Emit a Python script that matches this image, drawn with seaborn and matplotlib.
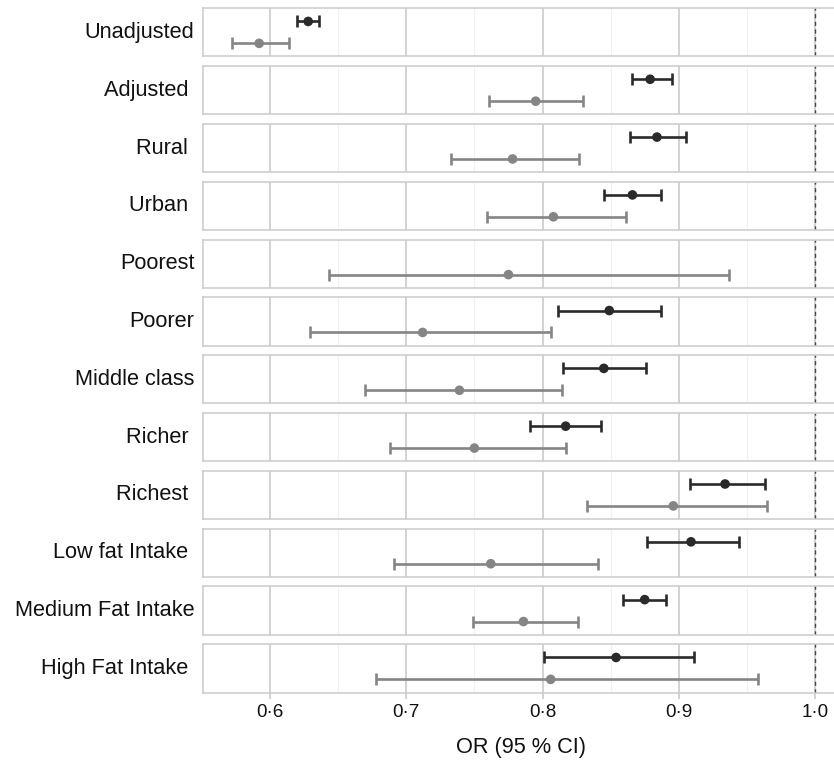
import numpy as np
import pandas as pd
import matplotlib.pyplot as plt
import seaborn as sns

# strata (trailing spaces kept as in the original labels)
groups = ['Unadjusted', 'Adjusted ', 'Rural ', 'Urban ', 'Poorest', 'Poorer',
          'Middle class', 'Richer ', 'Richest ', 'Low fat Intake ',
          'Medium Fat Intake', 'High Fat Intake ']

# dark series (upper row in each panel)
dark_or = [0.628, 0.879, 0.884, 0.866, np.nan, 0.849, 0.845, 0.817, 0.934, 0.909, 0.875, 0.854]
dark_lo = [0.620, 0.866, 0.864, 0.845, np.nan, 0.811, 0.815, 0.791, 0.908, 0.877, 0.859, 0.801]
dark_hi = [0.636, 0.895, 0.905, 0.887, np.nan, 0.887, 0.876, 0.843, 0.963, 0.944, 0.891, 0.911]

# grey series (lower row in each panel)
grey_or = [0.592, 0.795, 0.778, 0.808, 0.775, 0.712, 0.739, 0.750, 0.896, 0.762, 0.786, 0.806]
grey_lo = [0.572, 0.761, 0.733, 0.759, 0.643, 0.629, 0.670, 0.688, 0.833, 0.691, 0.749, 0.678]
grey_hi = [0.614, 0.830, 0.827, 0.861, 0.937, 0.806, 0.814, 0.817, 0.965, 0.841, 0.826, 0.958]

x_ticks = [0.6, 0.7, 0.8, 0.9, 1.0]
x_tick_labels = ['0·6', '0·7', '0·8', '0·9', '1·0']
x_minor = [0.65, 0.75, 0.85, 0.95]

rows = []
for i, g in enumerate(groups):
    rows.append(dict(group=g, series='dark', pos=2, OR=dark_or[i], lo=dark_lo[i], hi=dark_hi[i]))
    rows.append(dict(group=g, series='grey', pos=1, OR=grey_or[i], lo=grey_lo[i], hi=grey_hi[i]))
df = pd.DataFrame(rows).dropna()

colors = {'dark': '#2a2a2a', 'grey': '#858585'}

sns.set_style('white')
plt.rcParams['font.family'] = ['Liberation Sans', 'DejaVu Sans']

W, H = 834, 763
fig = plt.figure(figsize=(W / 100, H / 100), dpi=100)
gs = fig.add_gridspec(len(groups), 1, left=203.3 / W, right=838 / W,
                      top=1 - 8.3 / H, bottom=1 - 692.5 / H, hspace=0.2)

for i, g in enumerate(groups):
    ax = fig.add_subplot(gs[i])
    sub = df[df['group'] == g]
    for s, d in sub.groupby('series'):
        ax.errorbar(d['OR'], d['pos'], xerr=[d['OR'] - d['lo'], d['hi'] - d['OR']],
                    fmt='none', ecolor=colors[s], elinewidth=1.9, capsize=4.5,
                    capthick=1.9, zorder=3)
    sns.scatterplot(data=sub, x='OR', y='pos', hue='series', palette=colors,
                    s=48, edgecolor='none', legend=False, ax=ax, zorder=4)
    ax.axvline(1.0, color='#444444', lw=1.0, ls=(0, (3, 2.5)), zorder=2)
    ax.set_xlim(0.551, 1.0169)
    ax.set_ylim(0.4, 2.6)
    ax.set_xticks(x_ticks)
    ax.set_xticks(x_minor, minor=True)
    ax.grid(True, axis='x', which='major', color='#c6c6c6', lw=1.1)
    ax.grid(True, axis='x', which='minor', color='#f1f1f1', lw=0.8)
    ax.set_yticks([])
    ax.set_xlabel('')
    ax.set_ylabel('')
    for sp in ax.spines.values():
        sp.set_color('#cacaca')
        sp.set_linewidth(1.1)
    ax.text(-0.0142, 0.5, g, transform=ax.transAxes, ha='right', va='center',
            fontsize=15.7, color='#111111')
    if i < len(groups) - 1:
        ax.tick_params(axis='x', which='both', bottom=False, labelbottom=False)
    else:
        ax.set_xticklabels(x_tick_labels)
        ax.tick_params(axis='x', which='major', bottom=True, length=4, width=1.1,
                       color='#c6c6c6', labelsize=13.6, labelcolor='#111111', pad=4)
        ax.tick_params(axis='x', which='minor', bottom=False)
        ax.set_xlabel('OR (95 % CI)', fontsize=15.7, color='#111111', labelpad=12)

fig.savefig('out.png', dpi=100)
